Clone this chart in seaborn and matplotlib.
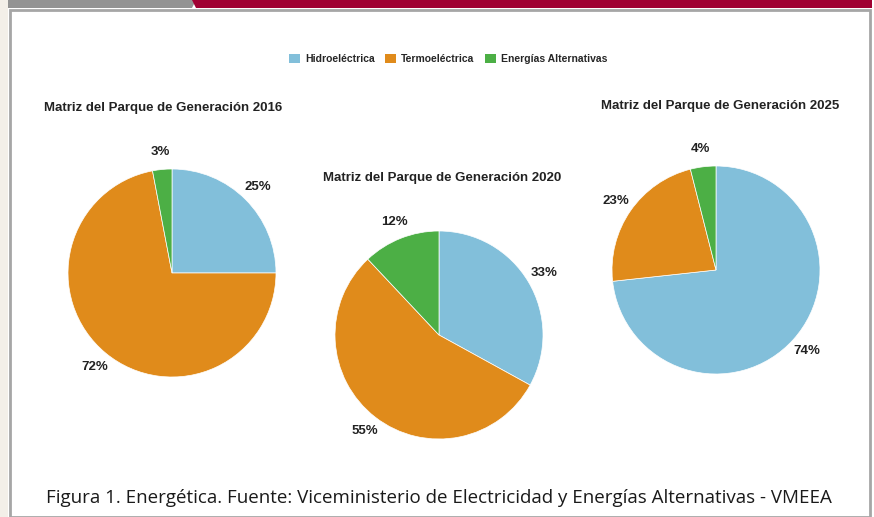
import numpy as np
import matplotlib
matplotlib.use("Agg")
import matplotlib.pyplot as plt
from matplotlib.patches import Rectangle, Polygon, Patch
import seaborn as sns

sns.set_theme(style="white")
plt.rcParams['font.family'] = ['Liberation Sans', 'DejaVu Sans']

# datos
categorias = ['Hidroeléctrica', 'Termoeléctrica', 'Energías Alternativas']
anios = ['2016', '2020', '2025']
valores_2016 = [25, 72, 3]
valores_2020 = [33, 55, 12]
valores_2025 = [74, 23, 4]
colores = sns.color_palette(['#82bfda', '#e08b1b', '#4caf45'])

W, H = 874, 517
fig = plt.figure(figsize=(W / 100, H / 100), dpi=100)
fig.patch.set_facecolor('white')

def px(x, y):
    return x / W, 1 - y / H

# marco de la pagina
fig.patches.append(Rectangle((0, 0), 8 / W, 1, transform=fig.transFigure,
                             facecolor='#f3efe8', edgecolor='none', zorder=0))
fig.patches.append(Polygon([px(8, 0), px(196, 0), px(192, 8), px(8, 8)], closed=True,
                           transform=fig.transFigure, facecolor='#939393',
                           edgecolor='none', zorder=1))
fig.patches.append(Polygon([px(192, 0), px(872, 0), px(872, 8), px(196, 8)], closed=True,
                           transform=fig.transFigure, facecolor='#a00032',
                           edgecolor='none', zorder=1))
fig.patches.append(Rectangle(px(10, 517), 860 / W, 507 / H, transform=fig.transFigure,
                             facecolor='none', edgecolor='#a6a6a6', linewidth=2, zorder=1))

def dibujar_pie(valores, anio, cx, cy, tx, ty, r=104):
    total = sum(valores)
    ax = fig.add_axes([(cx - r) / W, (H - cy - r) / H, 2 * r / W, 2 * r / H])
    ax.pie(valores, colors=colores, startangle=90, counterclock=False,
           autopct=lambda p: f'{round(p * total / 100):.0f}%', pctdistance=1.17, radius=1,
           wedgeprops=dict(edgecolor='white', linewidth=0.5),
           textprops=dict(fontsize=9.5, fontweight='bold', color='#222222'))
    ax.set_xlim(-1, 1)
    ax.set_ylim(-1, 1)
    ax.axis('off')
    fig.text(*px(tx, ty), f'Matriz del Parque de Generación {anio}',
             ha='center', va='center', fontsize=9.5, fontweight='bold', color='#222222')

dibujar_pie(valores_2016, anios[0], 172, 273, 163, 108)
dibujar_pie(valores_2020, anios[1], 439, 335, 442, 178)
dibujar_pie(valores_2025, anios[2], 716, 270, 720, 106)

handles = [Patch(facecolor=c, edgecolor='none') for c in colores]
fig.legend(handles, categorias, loc='center', bbox_to_anchor=px(448, 59), ncol=3,
           frameon=False, prop=dict(size=7.5, weight='bold'), handlelength=1.05,
           handleheight=1.05, handletextpad=0.5, columnspacing=1.0)

fig.text(*px(439, 498),
         'Figura 1. Energética. Fuente: Viceministerio de Electricidad y Energías Alternativas - VMEEA',
         ha='center', va='center', fontsize=13.5, family=['Open Sans', 'DejaVu Sans'],
         color='#1a1a1a')

fig.savefig('out.png', dpi=100)
